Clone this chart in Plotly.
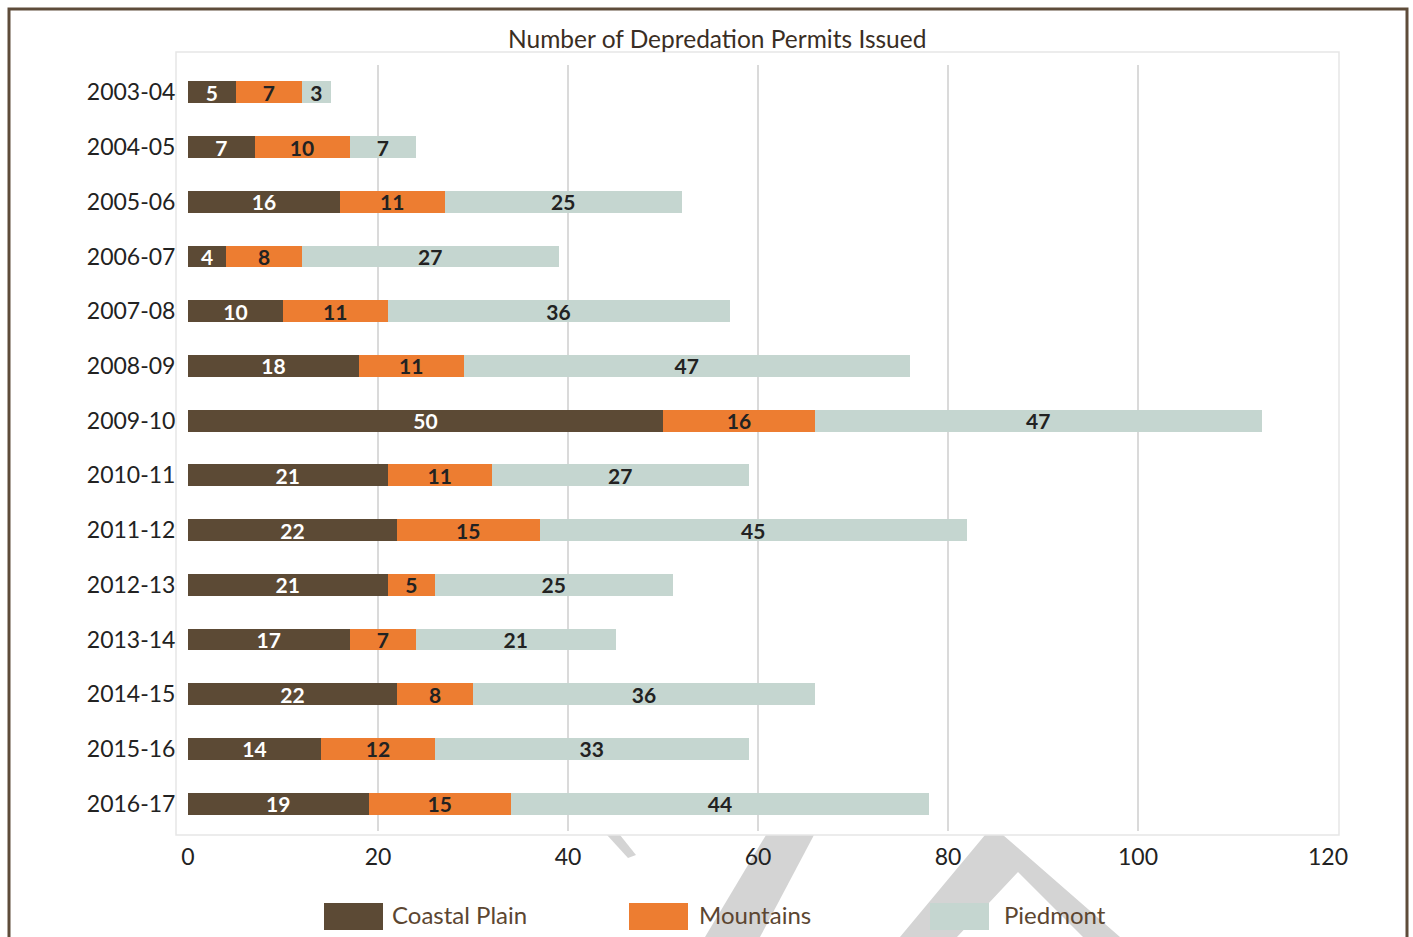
import plotly.graph_objects as go

years = ["2003-04", "2004-05", "2005-06", "2006-07", "2007-08", "2008-09", "2009-10",
         "2010-11", "2011-12", "2012-13", "2013-14", "2014-15", "2015-16", "2016-17"]
coastal = [5, 7, 16, 4, 10, 18, 50, 21, 22, 21, 17, 22, 14, 19]
mountains = [7, 10, 11, 8, 11, 11, 16, 11, 15, 5, 7, 8, 12, 15]
piedmont = [3, 7, 25, 27, 36, 47, 47, 27, 45, 25, 21, 36, 33, 44]
series_names = ["Coastal Plain", "Mountains", "Piedmont"]
colors = ["#5C4A35", "#ED7D31", "#C5D6D0"]
label_colors = ["white", "#222222", "#222222"]
x_ticks = [0, 20, 40, 60, 80, 100, 120]

FONT = "Lato, 'Open Sans', sans-serif"
W, H = 1413, 937
ML, MR, MT, MB = 188, 85, 65, 106
PW, PH = W - ML - MR, H - MT - MB


def px(x):
    return (x - ML) / PW


def py(y):
    return (H - MB - y) / PH


fig = go.Figure()
for name, vals, col, lc in zip(series_names, [coastal, mountains, piedmont], colors, label_colors):
    fig.add_trace(go.Bar(
        y=years, x=vals, name=name, orientation="h",
        marker=dict(color=col, line=dict(width=0)),
        text=vals, textposition="inside", insidetextanchor="middle", textangle=0,
        textfont=dict(family=FONT, size=21, color=lc, weight="bold"),
        constraintext="none", showlegend=False, hoverinfo="skip",
    ))

shapes = []
# watermark pieces
wm = "#D4D4D4"
for path in [
    [(607, 835), (620, 835), (636, 855), (628, 858)],
    [(766, 835), (814, 835), (760, 937), (705, 937)],
    [(985, 835), (1003, 835), (1120, 937), (1083, 937), (1018, 872), (957, 937), (900, 937)],
]:
    d = "M " + " L ".join(f"{px(a):.5f},{py(b):.5f}" for a, b in path) + " Z"
    shapes.append(dict(type="path", xref="paper", yref="paper", path=d,
                       fillcolor=wm, line=dict(width=0), layer="below"))
# outer frame
shapes.append(dict(type="rect", xref="paper", yref="paper",
                   x0=px(9), x1=px(1407), y0=py(950), y1=py(9),
                   line=dict(color="#5E4C3A", width=3), fillcolor="rgba(0,0,0,0)", layer="below"))
# inner chart-area border
shapes.append(dict(type="rect", xref="paper", yref="paper",
                   x0=px(176), x1=px(1339), y0=py(835), y1=py(52),
                   line=dict(color="#E6E6E6", width=1.5), fillcolor="rgba(0,0,0,0)", layer="below"))

annotations = [dict(text="Number of Depredation Permits Issued", xref="paper", yref="paper",
                    x=px(717), y=py(38), xanchor="center", yanchor="middle", showarrow=False,
                    font=dict(family=FONT, size=24.5, color="#3A2E24"))]

legend_boxes = [(324, 383, 390), (629, 688, 697), (930, 989, 1002)]
for (bx0, bx1, tx), name, col in zip(legend_boxes, series_names, colors):
    shapes.append(dict(type="rect", xref="paper", yref="paper",
                       x0=px(bx0), x1=px(bx1), y0=py(930), y1=py(903),
                       fillcolor=col, line=dict(width=0), layer="above"))
    annotations.append(dict(text=name, xref="paper", yref="paper", x=px(tx), y=py(914),
                            xanchor="left", yanchor="middle", showarrow=False,
                            font=dict(family=FONT, size=24, color="#5C4631")))

fig.update_layout(
    width=W, height=H, barmode="stack", bargap=0.6,
    margin=dict(l=ML, r=MR, t=MT, b=MB, autoexpand=False),
    paper_bgcolor="white", plot_bgcolor="rgba(0,0,0,0)",
    font=dict(family=FONT, size=23, color="#222222"),
    shapes=shapes, annotations=annotations, showlegend=False,
    uniformtext=dict(mode=False), hovermode=False,
)
fig.update_xaxes(range=[0, 120], tickvals=x_ticks, showgrid=True, gridcolor="#DADADA",
                 gridwidth=1.5, zeroline=False, showline=False,
                 ticks="outside", ticklen=5, tickcolor="rgba(0,0,0,0)",
                 tickfont=dict(family=FONT, size=23, color="#222222"))
fig.update_yaxes(type="category", categoryorder="array", categoryarray=years, autorange="reversed",
                 showgrid=False, zeroline=False, showline=False,
                 ticks="outside", ticklen=7, tickcolor="rgba(0,0,0,0)",
                 tickfont=dict(family=FONT, size=23, color="#222222"))

fig.write_html("out.html", config={"displayModeBar": False},
               post_script="document.body.style.margin='0';document.body.style.overflow='hidden';")
